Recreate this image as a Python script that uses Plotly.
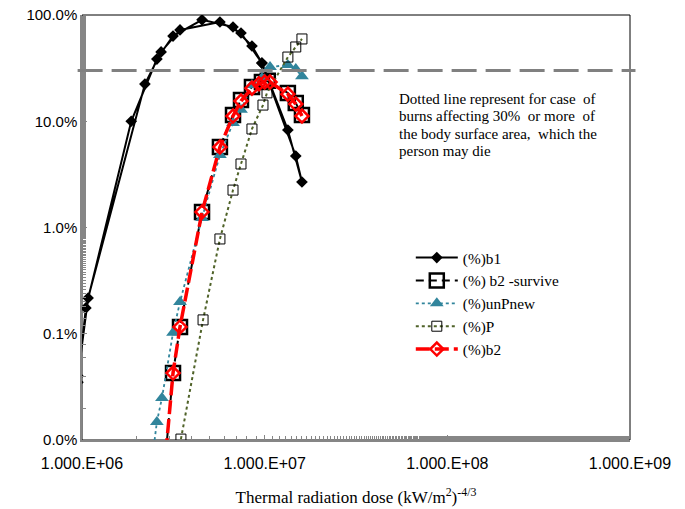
import plotly.graph_objects as go

# ---- data ----
b1_x = [9.5e5, 1.05e6, 1.86e6, 2.57e6, 3.15e6, 4.54e6, 6.71e6, 8.52e6, 9.66e6, 1.34e7, 1.60e7,
        1.48e7, 9.66e6, 7.42e6, 5.69e6, 3.44e6, 2.71e6, 2.21e6, 1.08e6, 9.5e5]
b1_y = [0.035, 0.175, 10.0, 38.5, 63.4, 90.0, 77.1, 51.1, 35.3, 8.27, 2.68,
        4.71, 35.3, 67.7, 85.9, 72.3, 44.9, 22.4, 0.217, 0.040]

surv_x = [2.88e6, 3.15e6, 3.44e6, 4.54e6, 5.69e6, 6.71e6, 7.42e6, 8.52e6, 9.66e6, 1.04e7, 1.34e7, 1.48e7, 1.60e7]
surv_y = [0.0077, 0.0427, 0.116, 1.40, 5.72, 11.45, 15.85, 21.0, 23.4, 24.0, 18.45, 14.85, 11.45]

unp_x = [2.45e6, 2.57e6, 2.74e6, 3.15e6, 3.44e6, 4.54e6, 5.69e6, 6.71e6, 7.42e6, 8.52e6, 9.66e6, 1.07e7, 1.34e7, 1.48e7, 1.60e7]
unp_y = [0.0077, 0.0148, 0.0249, 0.102, 0.199, 1.23, 4.81, 9.63, 12.8, 21.9, 25.5, 32.4, 33.8, 31.0, 26.5]

p_x = [3.48e6, 4.60e6, 5.69e6, 6.71e6, 7.42e6, 8.52e6, 9.79e6, 1.03e7, 1.34e7, 1.48e7, 1.60e7]
p_y = [0.0102, 0.135, 0.78, 2.25, 3.96, 8.46, 14.2, 18.5, 40.2, 50.0, 59.5]

b2_x = [2.88e6, 3.15e6, 3.44e6, 4.54e6, 5.69e6, 6.71e6, 7.42e6, 8.52e6, 9.3e6, 1.0e7, 1.07e7, 1.34e7, 1.48e7, 1.60e7]
b2_y = [0.0077, 0.0427, 0.116, 1.40, 5.72, 11.2, 15.5, 20.5, 22.5, 23.4, 23.4, 18.0, 14.5, 11.2]

threshold = 30.0

y_tickvals = [0.01, 0.1, 1, 10, 100]
y_ticktext = ["0.0%", "0.1%", "1.0%", "10.0%", "100.0%"]
x_tickvals = [1e6, 1e7, 1e8, 1e9]
x_ticktext = ["1.000.E+06", "1.000.E+07", "1.000.E+08", "1.000.E+09"]

NB = "\u00a0"
note_lines = [
    "Dotted line represent for case" + NB + " of",
    "burns affecting 30%" + NB + " or more" + NB + " of",
    "the body surface area," + NB + " which the",
    "person may die",
]

fig = go.Figure()
fig.add_trace(go.Scatter(x=b1_x, y=b1_y, name="(%)b1", mode="lines+markers",
                         line=dict(color="black", width=2),
                         marker=dict(symbol="diamond", size=9, color="black")))
fig.add_trace(go.Scatter(x=surv_x, y=surv_y, name="(%) b2 -survive", mode="lines+markers",
                         line=dict(color="black", width=2, dash="8px,5px"),
                         marker=dict(symbol="square-open", size=14, color="black",
                                     line=dict(width=2.5, color="black"))))
fig.add_trace(go.Scatter(x=unp_x, y=unp_y, name="(%)unPnew", mode="lines+markers",
                         line=dict(color="#31859C", width=1.8, dash="dot"),
                         marker=dict(symbol="triangle-up", size=12, color="#31859C")))
fig.add_trace(go.Scatter(x=p_x, y=p_y, name="(%)P", mode="lines+markers",
                         line=dict(color="#4F6228", width=2, dash="dot"),
                         marker=dict(symbol="square-open", size=10, color="black",
                                     line=dict(width=1, color="black"))))
fig.add_trace(go.Scatter(x=b2_x, y=b2_y, name="(%)b2", mode="lines+markers",
                         line=dict(color="#FF0000", width=3.5, dash="14px,5px"),
                         marker=dict(symbol="diamond-open", size=10, color="#FF0000",
                                     line=dict(width=2.5, color="#FF0000"))))

fig.add_shape(type="rect", xref="paper", yref="paper", x0=0, x1=1, y0=0, y1=1,
              line=dict(color="black", width=1), layer="below")
fig.add_shape(type="line", xref="paper", yref="y", x0=-0.008, x1=1.01, y0=threshold, y1=threshold,
              line=dict(color="#808080", width=3, dash="25px,9px"), layer="above")

# note lines (centres at 99, 116, 133, 151 px from top -> paper y)
for i, line_text in enumerate(note_lines):
    ypx = 99 + i * 17.3
    fig.add_annotation(xref="paper", yref="paper", x=(397 - 82) / 548, y=(440 - ypx) / 425,
                       xanchor="left", yanchor="middle", text=line_text, showarrow=False,
                       align="left", font=dict(family="Liberation Serif", size=15, color="black"))

fig.update_layout(
    width=685, height=509,
    margin=dict(l=82, r=55, t=15, b=69),
    paper_bgcolor="white", plot_bgcolor="white",
    showlegend=True,
    legend=dict(x=0.6, y=0.468, xanchor="left", yanchor="top", itemwidth=42,
                font=dict(family="Liberation Serif", size=15.3, color="black"),
                bgcolor="rgba(0,0,0,0)", tracegroupgap=0),
    xaxis=dict(type="log", range=[6, 9], tickvals=x_tickvals, ticktext=x_ticktext, automargin=False,
               showgrid=False, zeroline=False, showline=True, linecolor="#868686", linewidth=1.5,
               ticks="inside", ticklen=5, tickcolor="#868686", ticklabelstandoff=8,
               minor=dict(ticks="inside", ticklen=4, tickcolor="#868686", showgrid=False),
               tickfont=dict(family="Liberation Sans", size=16, color="black"),
               title=dict(text="Thermal radiation dose (kW/m<sup>2</sup>)<sup>-4/3</sup>",
                          font=dict(family="Liberation Serif", size=17, color="black"), standoff=20)),
    yaxis=dict(type="log", range=[-2, 2], tickvals=y_tickvals, ticktext=y_ticktext, automargin=False,
               showgrid=False, zeroline=False, showline=True, linecolor="#868686", linewidth=1.5,
               ticks="inside", ticklen=5, tickcolor="#868686",
               minor=dict(ticks="inside", ticklen=4, tickcolor="#868686", showgrid=False),
               tickfont=dict(family="Liberation Sans", size=15, color="black")),
)

fig.write_html("out.html")
